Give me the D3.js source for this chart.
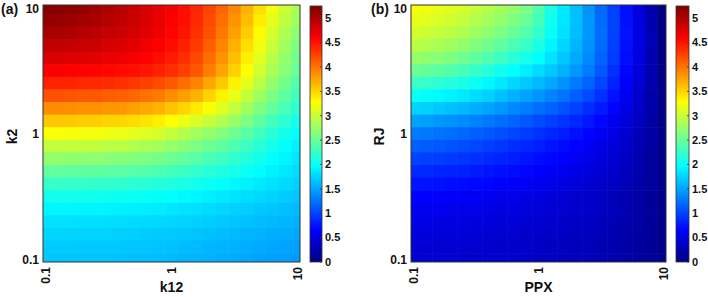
<!DOCTYPE html>
<html>
<head>
<meta charset="utf-8">
<script src="https://cdn.jsdelivr.net/npm/d3@7"></script>
<style>
  html, body { margin: 0; padding: 0; background: #fff; }
  svg text { font-family: "Liberation Sans", Arial, sans-serif; font-weight: bold; fill: #111; }
</style>
</head>
<body>
<svg id="chart" width="708" height="297"></svg>
<script>
// grid positions (same for both axes, both panels), 0.1 decade apart
const gridVals = [0.1, 0.126, 0.158, 0.2, 0.251, 0.316, 0.398, 0.501, 0.631, 0.794, 1,
  1.26, 1.58, 2, 2.51, 3.16, 3.98, 5.01, 6.31, 7.94, 10];

const axisTicks = [0.1, 1, 10];
const axisTickLabels = ["0.1", "1", "10"];
const cbarTicks = [0, 0.5, 1, 1.5, 2, 2.5, 3, 3.5, 4, 4.5, 5];

// panel (a): rows from k2 = 10 (top) down to k2 = 0.1, columns k12 = 0.1 .. 10
const valuesA = [
  [5.22,5.20,5.17,5.13,5.08,5.02,4.95,4.88,4.80,4.72,4.63,4.53,4.40,4.25,4.08,3.90,3.68,3.45,3.22,3.02,2.85],
  [5.15,5.13,5.11,5.07,5.03,4.97,4.92,4.86,4.78,4.71,4.62,4.52,4.38,4.22,4.03,3.84,3.62,3.38,3.16,2.95,2.78],
  [5.05,5.04,5.02,4.98,4.95,4.90,4.86,4.81,4.74,4.67,4.58,4.49,4.35,4.18,3.97,3.77,3.54,3.30,3.08,2.87,2.70],
  [4.93,4.92,4.90,4.88,4.86,4.81,4.78,4.74,4.67,4.61,4.53,4.43,4.30,4.11,3.91,3.69,3.45,3.21,3.00,2.80,2.62],
  [4.79,4.79,4.77,4.75,4.74,4.71,4.68,4.64,4.59,4.53,4.46,4.36,4.23,4.04,3.84,3.61,3.37,3.13,2.92,2.72,2.55],
  [4.62,4.62,4.61,4.60,4.59,4.57,4.55,4.52,4.48,4.43,4.36,4.27,4.15,3.95,3.75,3.52,3.28,3.05,2.85,2.67,2.50],
  [4.42,4.42,4.41,4.40,4.39,4.37,4.35,4.31,4.27,4.21,4.14,4.04,3.92,3.74,3.56,3.35,3.14,2.92,2.73,2.56,2.40],
  [4.17,4.17,4.16,4.14,4.14,4.11,4.10,4.06,4.01,3.96,3.87,3.78,3.67,3.51,3.35,3.17,2.98,2.78,2.60,2.45,2.30],
  [3.88,3.88,3.87,3.85,3.85,3.82,3.81,3.77,3.73,3.67,3.59,3.50,3.39,3.26,3.12,2.97,2.80,2.63,2.47,2.33,2.20],
  [3.57,3.57,3.56,3.54,3.54,3.51,3.50,3.46,3.42,3.36,3.28,3.20,3.10,2.99,2.88,2.75,2.61,2.46,2.32,2.20,2.08],
  [3.25,3.25,3.24,3.22,3.22,3.20,3.19,3.15,3.11,3.06,2.98,2.90,2.81,2.73,2.64,2.53,2.42,2.30,2.17,2.07,1.97],
  [2.98,2.98,2.97,2.96,2.95,2.93,2.92,2.88,2.85,2.81,2.74,2.68,2.60,2.53,2.45,2.36,2.27,2.17,2.07,1.98,1.90],
  [2.72,2.72,2.71,2.70,2.69,2.68,2.66,2.64,2.61,2.57,2.52,2.47,2.41,2.35,2.29,2.22,2.14,2.07,1.99,1.92,1.85],
  [2.48,2.48,2.47,2.46,2.46,2.44,2.43,2.41,2.39,2.36,2.32,2.28,2.23,2.18,2.13,2.08,2.02,1.96,1.90,1.85,1.80],
  [2.25,2.25,2.24,2.24,2.23,2.22,2.21,2.19,2.18,2.15,2.13,2.10,2.06,2.02,1.98,1.94,1.90,1.86,1.82,1.78,1.74],
  [2.07,2.07,2.06,2.06,2.05,2.04,2.03,2.02,2.01,1.99,1.97,1.95,1.92,1.89,1.86,1.83,1.80,1.77,1.74,1.71,1.68],
  [1.93,1.93,1.93,1.92,1.92,1.91,1.90,1.89,1.88,1.87,1.85,1.83,1.81,1.79,1.77,1.74,1.72,1.69,1.67,1.64,1.62],
  [1.82,1.82,1.82,1.81,1.81,1.80,1.80,1.79,1.78,1.77,1.76,1.74,1.73,1.71,1.69,1.67,1.65,1.63,1.61,1.59,1.57],
  [1.75,1.75,1.75,1.74,1.74,1.74,1.73,1.72,1.71,1.70,1.69,1.68,1.66,1.65,1.63,1.61,1.59,1.57,1.55,1.54,1.52],
  [1.70,1.70,1.70,1.69,1.69,1.69,1.68,1.67,1.67,1.66,1.65,1.63,1.62,1.60,1.58,1.57,1.55,1.53,1.51,1.50,1.48],
  [1.67,1.67,1.67,1.66,1.66,1.66,1.65,1.64,1.64,1.63,1.62,1.60,1.59,1.57,1.55,1.54,1.52,1.50,1.48,1.47,1.45]
];

// panel (b): rows from RJ = 10 (top) down to RJ = 0.1, columns PPX = 0.1 .. 10
const valuesB = [
  [3.25,3.21,3.17,3.12,3.06,2.98,2.90,2.82,2.73,2.60,2.39,2.09,1.86,1.65,1.42,1.20,0.99,0.74,0.50,0.25,0.02],
  [3.17,3.13,3.09,3.04,2.97,2.89,2.81,2.72,2.62,2.51,2.32,2.05,1.85,1.65,1.43,1.21,1.00,0.74,0.51,0.26,0.02],
  [3.06,3.02,2.98,2.93,2.86,2.77,2.69,2.60,2.50,2.39,2.23,2.00,1.82,1.63,1.43,1.22,1.00,0.75,0.52,0.27,0.03],
  [2.92,2.89,2.84,2.79,2.71,2.63,2.54,2.45,2.35,2.25,2.11,1.93,1.76,1.59,1.41,1.21,0.98,0.74,0.51,0.27,0.03],
  [2.74,2.71,2.67,2.61,2.54,2.46,2.37,2.27,2.18,2.08,1.97,1.83,1.68,1.53,1.36,1.17,0.95,0.72,0.50,0.26,0.03],
  [2.52,2.49,2.45,2.40,2.33,2.25,2.16,2.06,1.97,1.89,1.80,1.69,1.57,1.44,1.29,1.11,0.90,0.68,0.47,0.25,0.03],
  [2.27,2.24,2.20,2.15,2.09,2.02,1.94,1.86,1.77,1.69,1.61,1.52,1.41,1.29,1.16,1.01,0.83,0.64,0.44,0.24,0.04],
  [2.02,1.99,1.95,1.91,1.86,1.79,1.73,1.65,1.57,1.50,1.43,1.34,1.25,1.14,1.03,0.90,0.75,0.58,0.40,0.22,0.04],
  [1.75,1.73,1.69,1.65,1.61,1.55,1.50,1.43,1.36,1.30,1.23,1.16,1.08,0.99,0.89,0.79,0.67,0.52,0.37,0.21,0.05],
  [1.50,1.48,1.44,1.41,1.37,1.33,1.28,1.22,1.17,1.11,1.05,0.98,0.92,0.85,0.77,0.68,0.58,0.46,0.33,0.19,0.05],
  [1.30,1.28,1.25,1.22,1.19,1.15,1.11,1.06,1.01,0.96,0.91,0.85,0.80,0.74,0.67,0.60,0.52,0.42,0.30,0.18,0.06],
  [1.15,1.13,1.11,1.08,1.05,1.02,0.98,0.94,0.89,0.85,0.81,0.75,0.71,0.66,0.60,0.53,0.46,0.38,0.27,0.17,0.06],
  [1.00,0.98,0.97,0.95,0.93,0.90,0.86,0.83,0.80,0.76,0.72,0.68,0.64,0.59,0.54,0.48,0.42,0.34,0.25,0.15,0.06],
  [0.87,0.86,0.84,0.83,0.82,0.79,0.76,0.73,0.71,0.68,0.65,0.61,0.57,0.53,0.49,0.44,0.38,0.31,0.23,0.15,0.07],
  [0.76,0.75,0.74,0.72,0.71,0.69,0.67,0.64,0.62,0.60,0.57,0.54,0.50,0.47,0.43,0.39,0.34,0.28,0.21,0.14,0.07],
  [0.66,0.65,0.64,0.63,0.62,0.60,0.58,0.56,0.54,0.52,0.50,0.47,0.44,0.41,0.38,0.34,0.30,0.25,0.19,0.13,0.07],
  [0.58,0.57,0.57,0.56,0.55,0.54,0.53,0.51,0.50,0.48,0.47,0.44,0.42,0.40,0.37,0.34,0.30,0.26,0.20,0.14,0.07],
  [0.52,0.52,0.51,0.50,0.50,0.49,0.48,0.46,0.45,0.43,0.42,0.40,0.38,0.36,0.34,0.31,0.27,0.24,0.19,0.13,0.07],
  [0.47,0.47,0.46,0.46,0.45,0.44,0.43,0.42,0.41,0.39,0.38,0.36,0.35,0.33,0.31,0.28,0.25,0.22,0.17,0.13,0.07],
  [0.44,0.44,0.43,0.43,0.42,0.41,0.40,0.39,0.38,0.37,0.36,0.34,0.32,0.31,0.29,0.26,0.24,0.21,0.17,0.12,0.07],
  [0.42,0.42,0.41,0.41,0.40,0.39,0.39,0.38,0.37,0.35,0.34,0.33,0.31,0.29,0.28,0.25,0.23,0.20,0.16,0.12,0.07]
];

const vMax = 5.25;
const jetStops = [0, 0.125, 0.375, 0.625, 0.875, 1];
const jetColors = ["#000080", "#0000ff", "#00ffff", "#ffff00", "#ff0000", "#800000"];

const color = d3.scaleLinear()
  .domain(jetStops.map(s => s * vMax))
  .range(jetColors)
  .clamp(true);

const svg = d3.select("#chart");
const defs = svg.append("defs");

const grad = defs.append("linearGradient")
  .attr("id", "jet")
  .attr("x1", 0).attr("y1", 1)
  .attr("x2", 0).attr("y2", 0);
jetStops.forEach((s, i) => {
  grad.append("stop").attr("offset", s).attr("stop-color", jetColors[i]);
});

const panels = [
  { id: "a", label: "(a)", labelX: 1, xTitle: "k12", yTitle: "k2", yTitleX: 17,
    left: 43, right: 300, cbLeft: 310, cbRight: 322, values: valuesA },
  { id: "b", label: "(b)", labelX: 371, xTitle: "PPX", yTitle: "RJ", yTitleX: 384,
    left: 411, right: 666, cbLeft: 676, cbRight: 689, values: valuesB }
];

const plotTop = 5, plotBottom = 262;
const dom = [Math.pow(10, -1.02), Math.pow(10, 1.02)];

// cell edges: geometric midpoints between grid positions
const edges = gridVals.map((v, i) => i === 0 ? dom[0] : Math.sqrt(gridVals[i - 1] * v));
edges.push(dom[1]);

panels.forEach(p => {
  const x = d3.scaleLog().domain(dom).range([p.left, p.right]);
  const y = d3.scaleLog().domain(dom).range([plotBottom, plotTop]);

  defs.append("clipPath").attr("id", "clip-" + p.id)
    .append("rect")
    .attr("x", p.left).attr("y", plotTop)
    .attr("width", p.right - p.left).attr("height", plotBottom - plotTop);

  const cells = [];
  p.values.forEach((row, r) => {
    const yi = gridVals.length - 1 - r;
    row.forEach((v, c) => cells.push({ c, yi, v }));
  });

  svg.append("g")
    .attr("clip-path", `url(#clip-${p.id})`)
    .selectAll("rect")
    .data(cells)
    .join("rect")
    .attr("x", d => x(edges[d.c]))
    .attr("y", d => y(edges[d.yi + 1]))
    .attr("width", d => x(edges[d.c + 1]) - x(edges[d.c]) + 0.6)
    .attr("height", d => y(edges[d.yi]) - y(edges[d.yi + 1]) + 0.6)
    .attr("fill", d => color(d.v));

  svg.append("rect")
    .attr("x", p.left).attr("y", plotTop)
    .attr("width", p.right - p.left).attr("height", plotBottom - plotTop)
    .attr("fill", "none")
    .attr("stroke", "#333")
    .attr("stroke-width", 1);

  // y tick labels
  svg.append("g").selectAll("text")
    .data(axisTicks)
    .join("text")
    .attr("x", p.left - 4)
    .attr("y", d => Math.max(y(d), 9))
    .attr("dy", "0.35em")
    .attr("text-anchor", "end")
    .style("font-size", "12px")
    .text((d, i) => axisTickLabels[i]);

  // x tick labels, rotated
  svg.append("g").selectAll("text")
    .data(axisTicks)
    .join("text")
    .attr("transform", d => `translate(${x(d) + 4.5}, ${plotBottom + 5}) rotate(-90)`)
    .attr("text-anchor", "end")
    .style("font-size", "12px")
    .text((d, i) => axisTickLabels[i]);

  svg.append("text")
    .attr("x", (p.left + p.right) / 2)
    .attr("y", 292)
    .attr("text-anchor", "middle")
    .style("font-size", "14px")
    .text(p.xTitle);

  svg.append("text")
    .attr("transform", `translate(${p.yTitleX}, ${(plotTop + plotBottom) / 2 + 3}) rotate(-90)`)
    .attr("text-anchor", "middle")
    .style("font-size", "14px")
    .text(p.yTitle);

  svg.append("text")
    .attr("x", p.labelX)
    .attr("y", 14)
    .style("font-size", "14px")
    .text(p.label);

  // colorbar
  const cy = d3.scaleLinear().domain([0, vMax]).range([plotBottom, plotTop + 1]);
  svg.append("rect")
    .attr("x", p.cbLeft).attr("y", cy(vMax))
    .attr("width", p.cbRight - p.cbLeft).attr("height", cy(0) - cy(vMax))
    .attr("fill", "url(#jet)")
    .attr("stroke", "#333")
    .attr("stroke-width", 0.8);

  const cb = svg.append("g");
  cb.selectAll("line")
    .data(cbarTicks)
    .join("line")
    .attr("x1", p.cbRight - 2).attr("x2", p.cbRight)
    .attr("y1", d => cy(d)).attr("y2", d => cy(d))
    .attr("stroke", "#333")
    .attr("stroke-width", 0.8);
  cb.selectAll("text")
    .data(cbarTicks)
    .join("text")
    .attr("x", p.cbRight + 3)
    .attr("y", d => cy(d))
    .attr("dy", "0.35em")
    .style("font-size", "11px")
    .text(d => d);
});
</script>
</body>
</html>
